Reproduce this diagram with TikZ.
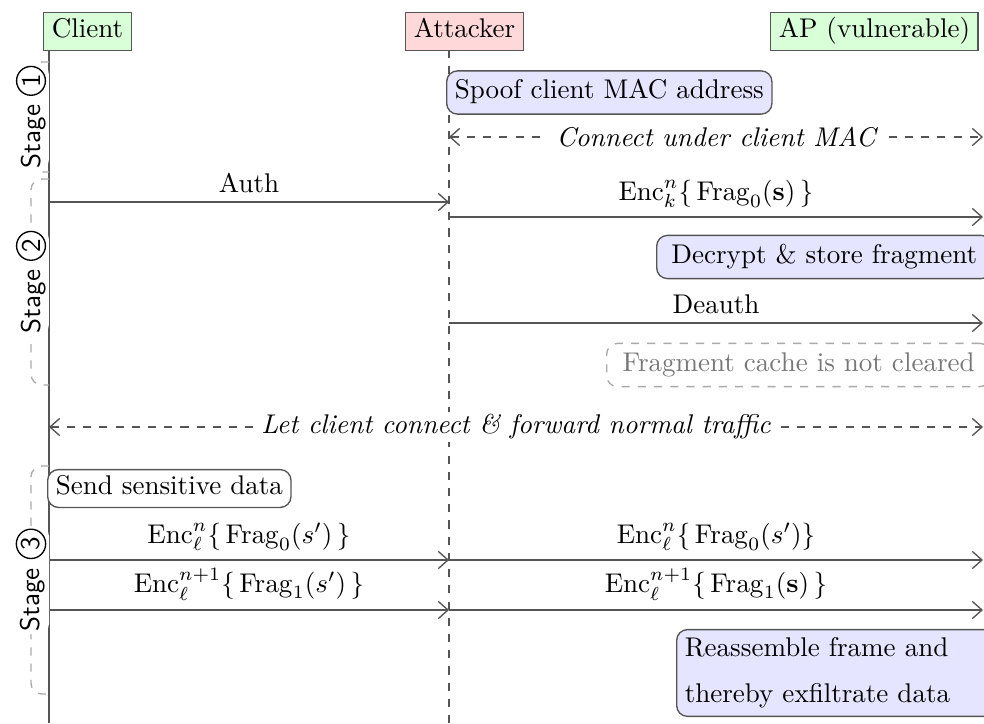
\documentclass[tikz,border=0pt]{standalone}
\usepackage{amsmath}
\usepackage{xcolor}
\usepackage{tikz}
\usetikzlibrary{arrows.meta}

\definecolor{frgreen}{HTML}{D9FFD9}
\definecolor{frred}{HTML}{FFD9D9}
\definecolor{frblue}{HTML}{E5E5FF}
\definecolor{frline}{HTML}{555555}
\definecolor{frbrace}{HTML}{AAAAAA}
\definecolor{frtext}{HTML}{777777}

\newcommand{\stagenum}[1]{\tikz[baseline=(stgnum.base)]\node[draw, circle, inner sep=0.8pt, line width=0.5pt] (stgnum) {#1};}

\tikzset{
  >={Straight Barb[length=3.6pt, width=6.4pt]},
  actorbox/.style={draw=frline, line width=0.5pt, inner xsep=3pt, inner ysep=1pt, anchor=west, font=\strut},
  notebox/.style={draw=frline, line width=0.5pt, fill=frblue, rounded corners=4pt, inner xsep=3pt, inner ysep=2pt, anchor=west, font=\strut},
  cachebox/.style={draw=frbrace, dashed, line width=0.5pt, rounded corners=4pt, inner xsep=2pt, inner ysep=2pt, anchor=west, text=frtext, font=\strut},
  lifeline/.style={draw=frline, line width=0.5pt},
  msgarrow/.style={->, draw=frline, line width=0.5pt},
  relayarrow/.style={<->, dashed, draw=frline, line width=0.5pt},
  relaylabel/.style={fill=white, inner ysep=1pt, inner xsep=1pt, font=\itshape},
  stagebrace/.style={draw=frbrace, dashed, line width=0.5pt, rounded corners=4pt},
  stagelabel/.style={rotate=90, fill=white, inner sep=1pt, font=\sffamily},
}

\begin{document}
\begin{tikzpicture}[x=0.013cm, y=-0.013cm]
  \useasboundingbox (0,0) rectangle (984,723);

  % lifelines
  \coordinate (cl-top) at (49,50);
  \coordinate (cl-bot) at (49,723);
  \coordinate (at-top) at (449,50);
  \coordinate (at-bot) at (449,723);
  \draw[lifeline] (cl-top) -- (cl-bot);
  \draw[lifeline, dashed] (at-top) -- (at-bot);

  % actors
  \node[actorbox, fill=frgreen] (client) at (43,31.5) {Client};
  \node[actorbox, fill=frred] (attacker) at (405,31.5) {Attacker};
  \node[actorbox, fill=frgreen] (ap) at (770,31.5) {AP (vulnerable)};

  % message rows on the lifelines
  \foreach \row/\yy in {conn/137, auth/202, frag/217, deauth/323, fwd/427, fragA/560, fragB/610}{
    \coordinate (c-\row) at (49,\yy);
    \coordinate (a-\row) at (449,\yy);
    \coordinate (p-\row) at (983,\yy);
  }

  % stage 1
  \node[notebox] (spoof) at (446,92.5) {Spoof client MAC address};
  \draw[relayarrow] (a-conn) -- node[relaylabel, inner xsep=5pt] (connlbl) {Connect under client MAC} (p-conn);

  % stage 2
  \draw[msgarrow] (c-auth) -- node[above] (authlbl) {Auth} (a-auth);
  \draw[msgarrow] (a-frag) -- node[above] (fraglbl) {$\mathrm{Enc}^{n}_{k}\{\,\mathrm{Frag}_0(\mathbf{s})\,\}$} (p-frag);
  \node[notebox, minimum width=124pt] (decrypt) at (656,257) {Decrypt \& store fragment};
  \draw[msgarrow] (a-deauth) -- node[above] (deauthlbl) {Deauth} (p-deauth);
  \node[cachebox, minimum width=142pt] (cache) at (606,365) {Fragment cache is not cleared};

  \draw[relayarrow] (c-fwd) -- node[relaylabel] (fwdlbl) {Let client connect \& forward normal traffic} (p-fwd);

  % stage 3
  \node[notebox, fill=white, inner ysep=1pt] (send) at (47,488.5) {Send sensitive data};
  \draw[msgarrow] (c-fragA) -- node[above] (fragAl) {$\mathrm{Enc}^{n}_{\ell}\{\,\mathrm{Frag}_0(s')\,\}$} (a-fragA);
  \draw[msgarrow] (a-fragA) -- node[above] (fragAr) {$\mathrm{Enc}^{n}_{\ell}\{\,\mathrm{Frag}_0(s')\}$} (p-fragA);
  \draw[msgarrow] (c-fragB) -- node[above] (fragBl) {$\mathrm{Enc}^{n+1}_{\ell}\{\,\mathrm{Frag}_1(s')\,\}$} (a-fragB);
  \draw[msgarrow] (a-fragB) -- node[above] (fragBr) {$\mathrm{Enc}^{n+1}_{\ell}\{\,\mathrm{Frag}_1(\mathbf{s})\,\}$} (p-fragB);
  \node[notebox, align=left, text width=114pt, font=, inner ysep=3pt] (reasm) at (676,673) {Reassemble frame and\\[5pt]thereby exfiltrate data};

  % stage brackets
  \coordinate (s1-top) at (49,62);
  \coordinate (s1-bot) at (49,172);
  \coordinate (s2-top) at (49,179);
  \coordinate (s2-bot) at (49,385);
  \coordinate (s3-top) at (49,466);
  \coordinate (s3-bot) at (49,694);
  \draw[stagebrace] (s1-top) -- ++(-18,0) |- (s1-bot) node[stagelabel, pos=0.25] (stage1) {Stage \stagenum{1}};
  \draw[stagebrace] (s2-top) -- ++(-18,0) |- (s2-bot) node[stagelabel, pos=0.25] (stage2) {Stage \stagenum{2}};
  \draw[stagebrace] (s3-top) -- ++(-18,0) |- (s3-bot) node[stagelabel, pos=0.25] (stage3) {Stage \stagenum{3}};
\end{tikzpicture}
\end{document}
